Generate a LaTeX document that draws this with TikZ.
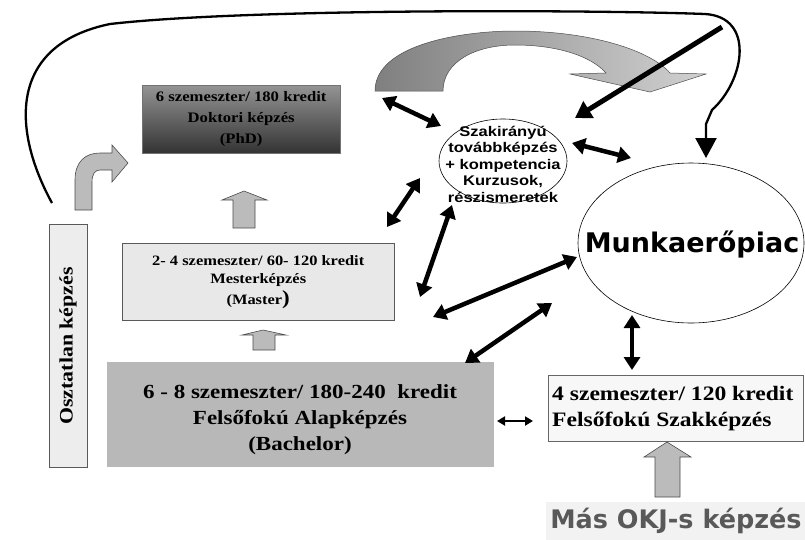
\documentclass[tikz,border=0pt]{standalone}
\usepackage{fontspec}
\setmainfont{Liberation Serif}[FakeStretch=1.15]
\newfontfamily\arialf{Liberation Sans}[FakeStretch=1.18]
\newfontfamily\verdf{DejaVu Sans}
\usetikzlibrary{arrows.meta,shapes.geometric}
\definecolor{bachgray}{HTML}{B8B8B8}
\definecolor{blockgray}{HTML}{BBBBBB}
\definecolor{mastergray}{HTML}{E8E8E8}
\definecolor{okjtext}{HTML}{595959}
\definecolor{okjbg}{HTML}{F2F2F2}
\begin{document}
\begin{tikzpicture}[x=1pt,y=-1pt,
  box/.style={rectangle,inner sep=0pt,anchor=north west,align=center},
  dbl/.style={line width=4.5pt,{Triangle[length=13pt,width=16pt]}-{Triangle[length=13pt,width=16pt]}},
  smalldbl/.style={line width=2.5pt,{Triangle[length=8pt,width=9pt]}-{Triangle[length=8pt,width=9pt]}},
  blockarrow/.style={fill=blockgray,draw=black!70,line width=0.6pt},
]
\useasboundingbox (0,0) rectangle (805,539);

% boxes
\node[box,draw=black!55,top color=black!42,bottom color=black!80,minimum width=198pt,minimum height=68pt,
  font=\bfseries\fontsize{14.5}{21}\selectfont] (phd) at (142,85)
  {6 szemeszter/ 180 kredit\\Doktori képzés\\(PhD)};
\node[box,draw=black!65,fill=mastergray,minimum width=272pt,minimum height=77pt,
  font=\bfseries\fontsize{14.3}{18}\selectfont] (master) at (122,243)
  {2- 4 szemeszter/ 60- 120 kredit\\Mesterképzés\\[3pt](Master{\fontsize{20}{18}\selectfont)}};
\node[box,fill=bachgray,minimum width=387pt,minimum height=105pt] (bach) at (107,362) {};
\node[align=center,font=\bfseries\fontsize{20}{26}\selectfont] (bacht) at (300,420)
  {6 - 8 szemeszter/ 180-240\ \ kredit\\Felsőfokú Alapképzés\\(Bachelor)};
\node[box,draw=black!65,fill=black!7,minimum width=38pt,minimum height=243pt] (oszt) at (49,224) {};
\node[rotate=90,font=\bfseries\fontsize{19}{19}\selectfont] (osztt) at (68,346) {Osztatlan képzés};
\node[box,draw=black!60,fill=black!3,minimum width=255pt,minimum height=66pt] (szk) at (548,375) {};
\node[anchor=west,align=left,inner sep=0pt,font=\bfseries\fontsize{20.5}{26}\selectfont] (szkt) at (552,409)
  {4 szemeszter/ 120 kredit\\Felsőfokú Szakképzés};
\node[fill=okjbg,text=okjtext,inner xsep=4pt,minimum height=38pt,
  font=\verdf\bfseries\fontsize{25.5}{25.5}\selectfont] (okj) at (676,521) {Más OKJ-s képzés};

% ellipses
\node[ellipse,draw,line width=0.6pt,minimum width=128pt,minimum height=84pt,inner sep=0pt] (szak) at (503,161) {};
\node[align=center,font=\arialf\bfseries\fontsize{14}{16.5}\selectfont] (szakt) at (503,164)
  {Szakirányú\\továbbképzés\\+ kompetencia\\Kurzusok,\\részismeretek};
\node[ellipse,draw,line width=0.6pt,minimum width=226pt,minimum height=160pt,inner sep=0pt] (munka) at (691,243) {};
\node[font=\verdf\bfseries\fontsize{27}{27}\selectfont] (munkat) at (692,245) {Munkaerőpiac};

% big curved gray arrow
\path[left color=black!50,right color=black!18,draw=black!70,line width=0.5pt]
  (375,91) .. controls (375,45) and (460,31) .. (515,31)
  .. controls (590,31) and (650,50) .. (670,73) -- (706,74) -- (650,92) -- (570,74) -- (606,73)
  .. controls (590,55) and (555,45) .. (515,45)
  .. controls (475,45) and (443,62) .. (443,91) -- cycle;

% bent gray arrow (Osztatlan -> PhD)
\path[blockarrow] (75,210) -- (75,180) .. controls (75,162) and (85,153) .. (100,153) -- (112,153)
  -- (112,145) -- (128,163) -- (112,182) -- (112,170) -- (100,170)
  .. controls (95,170) and (92,174) .. (92,182) -- (92,210) -- cycle;

% straight gray up arrows
\path[blockarrow] (233,228) -- (233,200) -- (222,200) -- (244,191) -- (267,200) -- (255,200) -- (255,228) -- cycle;
\path[blockarrow] (253,350) -- (253,335) -- (242,335) -- (263,330) -- (286,335) -- (275,335) -- (275,350) -- cycle;
\path[blockarrow] (655,497) -- (655,457) -- (644,457) -- (667,442) -- (691,457) -- (680,457) -- (680,497) -- cycle;

% long curved line into Munkaerőpiac
\coordinate (lstart) at (52,203);
\coordinate (lend) at (706,158);
\draw[line width=2.3pt,-{Triangle[length=20pt,width=21pt]}]
  (lstart) .. controls (12,130) and (8,45) .. (110,24)
  .. controls (250,8) and (600,10) .. (705,14)
  .. controls (755,17) and (745,80) .. (712,110) -- (706,124) -- (lend);

% thick diagonal arrow
\coordinate (i1) at (722,27);
\coordinate (i2) at (575,118);
\draw[line width=5pt,-{Triangle[length=16pt,width=19pt]}] (i1) -- (i2);

% double arrows
\coordinate (a1) at (382,98);  \coordinate (a2) at (441,126);
\coordinate (b1) at (387,227); \coordinate (b2) at (420,178);
\coordinate (c1) at (452,205); \coordinate (c2) at (420,297);
\coordinate (d1) at (433,317); \coordinate (d2) at (577,257);
\coordinate (e1) at (465,363); \coordinate (e2) at (552,303);
\coordinate (f1) at (572,143); \coordinate (f2) at (631,158);
\coordinate (g1) at (632,315); \coordinate (g2) at (632,370);
\coordinate (h1) at (497,421); \coordinate (h2) at (533,421);
\draw[dbl] (a1) -- (a2);
\draw[dbl] (b1) -- (b2);
\draw[dbl] (c1) -- (c2);
\draw[dbl] (d1) -- (d2);
\draw[dbl] (e1) -- (e2);
\draw[dbl] (f1) -- (f2);
\draw[dbl] (g1) -- (g2);
\draw[smalldbl] (h1) -- (h2);
\end{tikzpicture}
\end{document}
